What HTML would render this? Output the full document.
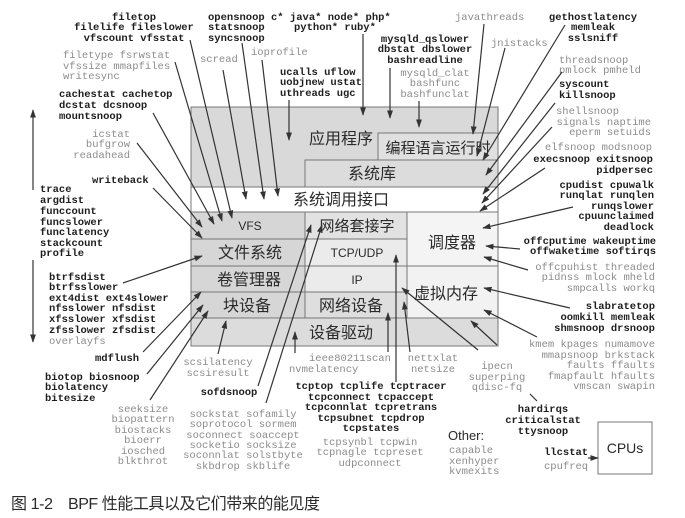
<!DOCTYPE html>
<html><head><meta charset="utf-8"><style>
html,body{margin:0;padding:0;background:#fff;width:685px;height:518px;overflow:hidden}
svg{display:block}
.b{font-family:"Liberation Mono",monospace;font-size:10.5px;font-weight:bold;fill:#1e1e1e}
.g{font-family:"Liberation Mono",monospace;font-size:10.5px;fill:#8c8c8c}
.c{font-family:"Liberation Sans","Noto Sans CJK SC",sans-serif;fill:#2a2a2a}
.l{stroke:#333;stroke-width:1.2;fill:none}
.bx{stroke:#777;stroke-width:1}
</style></head><body>
<svg width="685" height="518" viewBox="0 0 685 518" xmlns="http://www.w3.org/2000/svg">
<defs><marker id="a" viewBox="0 0 10 10" refX="9" refY="5" markerWidth="7" markerHeight="7" orient="auto-start-reverse"><path d="M0,1.5 L10,5 L0,8.5 z" fill="#333"/></marker></defs>

<rect x="191" y="107" width="307" height="80" fill="#d9d9d9" class="bx"/>
<rect x="378" y="133" width="120" height="27" fill="#e0e0e0" class="bx"/>
<rect x="305" y="160" width="193" height="27" fill="#dcdcdc" class="bx"/>
<rect x="191" y="187" width="307" height="25" fill="#fff" class="bx"/>
<rect x="191" y="212" width="114" height="27" fill="#d6d6d6" class="bx"/>
<rect x="305" y="212" width="102" height="27" fill="#e2e2e2" class="bx"/>
<rect x="407" y="212" width="91" height="54" fill="#f4f4f4" class="bx"/>
<rect x="191" y="239" width="114" height="27" fill="#d6d6d6" class="bx"/>
<rect x="305" y="239" width="102" height="27" fill="#ebebeb" class="bx"/>
<rect x="191" y="266" width="114" height="26" fill="#d6d6d6" class="bx"/>
<rect x="305" y="266" width="102" height="26" fill="#ebebeb" class="bx"/>
<rect x="407" y="266" width="91" height="52" fill="#f2f2f2" class="bx"/>
<rect x="191" y="292" width="114" height="26" fill="#d6d6d6" class="bx"/>
<rect x="305" y="292" width="102" height="26" fill="#dedede" class="bx"/>
<rect x="191" y="318" width="307" height="28" fill="#dcdcdc" class="bx"/>

<text class="c" x="341" y="144" font-size="16" text-anchor="middle">应用程序</text>
<text class="c" x="438" y="153" font-size="15" text-anchor="middle">编程语言运行时</text>
<text class="c" x="372" y="179" font-size="16" text-anchor="middle">系统库</text>
<text class="c" x="341" y="205" font-size="16" text-anchor="middle">系统调用接口</text>
<text class="c" x="250" y="230" font-size="12" text-anchor="middle">VFS</text>
<text class="c" x="357" y="231" font-size="15" text-anchor="middle">网络套接字</text>
<text class="c" x="452" y="248" font-size="16" text-anchor="middle">调度器</text>
<text class="c" x="250" y="258" font-size="16" text-anchor="middle">文件系统</text>
<text class="c" x="357" y="257" font-size="12" text-anchor="middle">TCP/UDP</text>
<text class="c" x="249" y="285" font-size="16" text-anchor="middle">卷管理器</text>
<text class="c" x="357" y="284" font-size="12" text-anchor="middle">IP</text>
<text class="c" x="446" y="299" font-size="16" text-anchor="middle">虚拟内存</text>
<text class="c" x="247" y="311" font-size="16" text-anchor="middle">块设备</text>
<text class="c" x="351" y="311" font-size="16" text-anchor="middle">网络设备</text>
<text class="c" x="341" y="338" font-size="16" text-anchor="middle">设备驱动</text>

<rect x="598" y="422" width="54" height="52" fill="#fff" class="bx" stroke="#555"/>
<text class="c" x="625" y="453" font-size="14" text-anchor="middle">CPUs</text>
<text class="c" x="448" y="440" font-size="13">Other:</text>
<text class="c" x="11" y="509" font-size="16" fill="#444" textLength="42" lengthAdjust="spacing">图 1-2</text>
<text class="c" x="68" y="509" font-size="16" fill="#444" textLength="252" lengthAdjust="spacing">BPF 性能工具以及它们带来的能见度</text>

<g class="b" text-anchor="middle">
<text x="134" y="20">filetop</text><text x="134" y="30">filelife fileslower</text><text x="134" y="41">vfscount vfsstat</text>
<text x="425" y="42">mysqld_qslower</text><text x="425" y="52">dbstat dbslower</text><text x="425" y="63">bashreadline</text>
<text x="593" y="20">gethostlatency</text><text x="593" y="30">memleak</text><text x="593" y="41">sslsniff</text>
<text x="229" y="395">sofdsnoop</text>
<text x="371" y="389">tcptop tcplife tcptracer</text><text x="371" y="400">tcpconnect tcpaccept</text><text x="371" y="410">tcpconnlat tcpretrans</text><text x="371" y="421">tcpsubnet tcpdrop</text><text x="371" y="431">tcpstates</text>
<text x="543" y="412">hardirqs</text><text x="543" y="423">criticalstat</text><text x="543" y="434">ttysnoop</text>
</g>
<g class="b">
<text x="208" y="20">opensnoop c* java* node* php*</text><text x="208" y="30">statsnoop</text><text x="294" y="30">python* ruby*</text><text x="208" y="41">syncsnoop</text>
<text x="280" y="75">ucalls uflow</text><text x="280" y="85">uobjnew ustat</text><text x="280" y="96">uthreads ugc</text>
<text x="59" y="97">cachestat cachetop</text><text x="59" y="108">dcstat dcsnoop</text><text x="59" y="119">mountsnoop</text>
<text x="92" y="183">writeback</text>
<text x="40" y="192">trace</text><text x="40" y="203">argdist</text><text x="40" y="214">funccount</text><text x="40" y="225">funcslower</text><text x="40" y="235">funclatency</text><text x="40" y="246">stackcount</text><text x="40" y="256">profile</text>
<text x="49" y="280">btrfsdist</text><text x="49" y="290">btrfsslower</text><text x="49" y="301">ext4dist ext4slower</text><text x="49" y="311">nfsslower nfsdist</text><text x="49" y="322">xfsslower xfsdist</text><text x="49" y="333">zfsslower zfsdist</text>
<text x="95" y="361">mdflush</text>
<text x="45" y="380">biotop biosnoop</text><text x="45" y="390">biolatency</text><text x="45" y="401">bitesize</text>
<text x="559" y="87">syscount</text><text x="559" y="98">killsnoop</text>
<text x="544" y="455">llcstat</text>
</g>
<g class="b" text-anchor="end">
<text x="653" y="162">execsnoop exitsnoop</text><text x="653" y="173">pidpersec</text>
<text x="654" y="188">cpudist cpuwalk</text><text x="654" y="198">runqlat runqlen</text><text x="654" y="209">runqslower</text><text x="654" y="219">cpuunclaimed</text><text x="654" y="230">deadlock</text>
<text x="656" y="244">offcputime wakeuptime</text><text x="656" y="254">offwaketime softirqs</text>
<text x="655" y="309">slabratetop</text><text x="655" y="320">oomkill memleak</text><text x="655" y="331">shmsnoop drsnoop</text>
</g>
<g class="g">
<text x="63" y="58">filetype fsrwstat</text><text x="63" y="69">vfssize mmapfiles</text><text x="63" y="79">writesync</text>
<text x="200" y="62">scread</text><text x="251" y="55">ioprofile</text>
<text x="455" y="20">javathreads</text><text x="491" y="46">jnistacks</text>
<text x="559" y="63">threadsnoop</text><text x="559" y="73">pmlock pmheld</text>
<text x="556" y="114">shellsnoop</text>
<text x="49" y="344">overlayfs</text>
<text x="309" y="361">ieee80211scan</text><text x="289" y="372">nvmelatency</text>
<text x="449" y="453">capable</text><text x="449" y="464">xenhyper</text><text x="449" y="474">kvmexits</text>
<text x="544" y="469">cpufreq</text>
</g>
<g class="g" text-anchor="middle">
<text x="435" y="76">mysqld_clat</text><text x="435" y="86">bashfunc</text><text x="435" y="97">bashfunclat</text>
<text x="218" y="365">scsilatency</text><text x="218" y="376">scsiresult</text>
<text x="143" y="412">seeksize</text><text x="143" y="422">biopattern</text><text x="143" y="433">biostacks</text><text x="143" y="443">bioerr</text><text x="143" y="454">iosched</text><text x="143" y="464">blkthrot</text>
<text x="243" y="417">sockstat sofamily</text><text x="243" y="427">soprotocol sormem</text><text x="243" y="438">soconnect soaccept</text><text x="243" y="448">socketio socksize</text><text x="243" y="458">soconnlat solstbyte</text><text x="243" y="469">skbdrop skblife</text>
<text x="433" y="361">nettxlat</text><text x="433" y="372">netsize</text>
<text x="370" y="445">tcpsynbl tcpwin</text><text x="370" y="455">tcpnagle tcpreset</text><text x="370" y="466">udpconnect</text>
<text x="497" y="369">ipecn</text><text x="497" y="380">superping</text><text x="497" y="390">qdisc-fq</text>
</g>
<g class="g" text-anchor="end">
<text x="130" y="137">icstat</text><text x="130" y="147">bufgrow</text><text x="130" y="158">readahead</text>
<text x="651" y="125">signals naptime</text><text x="651" y="135">eperm setuids</text>
<text x="652" y="150">elfsnoop modsnoop</text>
<text x="655" y="270">offcpuhist threaded</text><text x="655" y="280">pidnss mlock mheld</text><text x="655" y="291">smpcalls workq</text>
<text x="655" y="347">kmem kpages numamove</text><text x="655" y="358">mmapsnoop brkstack</text><text x="655" y="368">faults ffaults</text><text x="655" y="379">fmapfault hfaults</text><text x="655" y="389">vmscan swapin</text>
</g>

<g class="l" marker-end="url(#a)">
<line x1="33" y1="190" x2="33" y2="110"/>
<line x1="33" y1="260" x2="33" y2="342"/>
<line x1="190" y1="40" x2="232" y2="218"/>
<line x1="175" y1="62" x2="222" y2="221"/>
<line x1="153" y1="113" x2="214" y2="224"/>
<line x1="137" y1="143" x2="202" y2="227"/>
<line x1="153" y1="188" x2="202" y2="238"/>
<line x1="223" y1="70" x2="246" y2="199"/>
<line x1="242" y1="43" x2="264" y2="199"/>
<line x1="262" y1="60" x2="278" y2="196"/>
<line x1="289" y1="100" x2="289" y2="140"/>
<line x1="363" y1="34" x2="363" y2="115"/>
<line x1="390" y1="68" x2="390" y2="118"/>
<line x1="419" y1="101" x2="419" y2="127"/>
<line x1="484" y1="24" x2="473" y2="134"/>
<line x1="505" y1="48" x2="477" y2="156"/>
<line x1="565" y1="25" x2="483" y2="160"/>
<line x1="562" y1="72" x2="486" y2="175"/>
<line x1="555" y1="103" x2="483" y2="194"/>
<line x1="552" y1="127" x2="482" y2="203"/>
<line x1="545" y1="168" x2="480" y2="211"/>
<line x1="573" y1="207" x2="483" y2="228"/>
<line x1="520" y1="249" x2="486" y2="246"/>
<line x1="528" y1="270" x2="484" y2="257"/>
<line x1="570" y1="308" x2="484" y2="288"/>
<line x1="537" y1="337" x2="484" y2="310"/>
<line x1="497" y1="345" x2="471" y2="321"/>
<line x1="478" y1="350" x2="402" y2="288"/>
<line x1="410" y1="352" x2="404" y2="302"/>
<line x1="396" y1="382" x2="396" y2="255"/>
<line x1="388" y1="352" x2="388" y2="313"/>
<line x1="295" y1="353" x2="295" y2="332"/>
<line x1="258" y1="386" x2="311" y2="225"/>
<line x1="266" y1="403" x2="322" y2="225"/>
<line x1="218" y1="354" x2="226" y2="321"/>
<line x1="150" y1="400" x2="208" y2="311"/>
<line x1="147" y1="374" x2="203" y2="305"/>
<line x1="143" y1="352" x2="201" y2="292"/>
<line x1="123" y1="283" x2="202" y2="256"/>
<line x1="588" y1="458" x2="598" y2="458"/>
</g>
<line x1="530" y1="394" x2="537" y2="401" class="l"/>
</svg>
</body></html>
